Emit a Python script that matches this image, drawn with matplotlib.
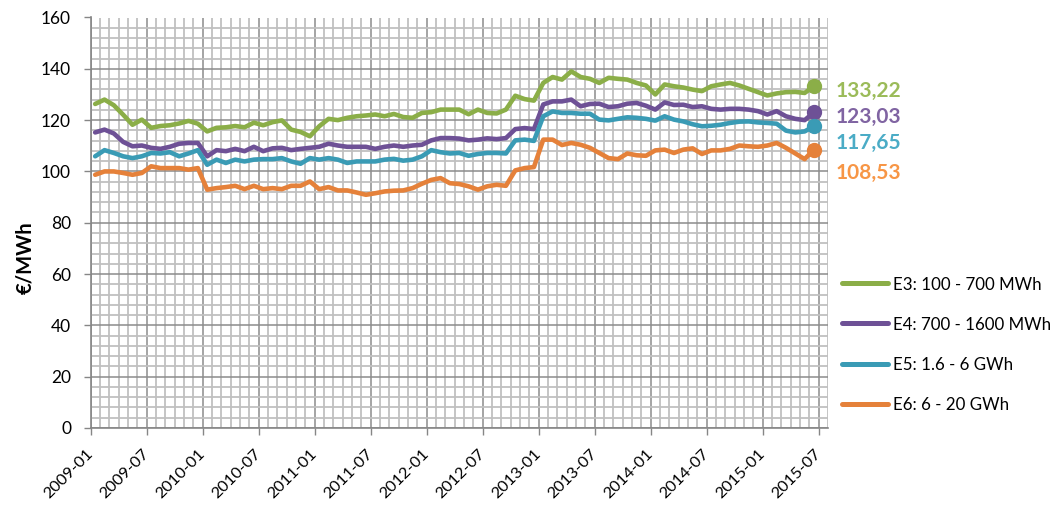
import numpy as np
import matplotlib
matplotlib.use("Agg")
import matplotlib.pyplot as plt
from matplotlib.ticker import MultipleLocator, FixedLocator
from matplotlib.lines import Line2D

plt.rcParams['font.family'] = ['Lato', 'DejaVu Sans']

# ---- data (monthly, 2009-01 .. 2015-06) ----
e3 = [126.3, 128.0, 125.8, 122.1, 118.2, 120.2, 117.0, 117.7, 118.0, 118.7,
      119.7, 118.6, 115.6, 117.0, 117.2, 117.7, 117.2, 119.0, 118.0, 119.2,
      119.9, 116.3, 115.4, 113.7, 117.6, 120.5, 120.0, 120.9, 121.5, 121.8,
      122.2, 121.5, 122.4, 121.2, 120.9, 122.8, 123.1, 124.1, 124.1,
      124.1, 122.3, 124.1, 122.8, 122.6, 124.1, 129.5, 128.2, 127.6, 134.5,
      136.8, 135.8, 139.0, 136.8, 136.1, 134.5, 136.5, 136.1, 135.8, 134.5,
      133.5, 130.0, 133.9, 133.2, 132.7, 131.9, 131.3, 133.2, 133.9, 134.5,
      133.5, 132.2, 130.9, 129.6, 130.4, 130.9, 131.0, 130.6, 133.22]
e4 = [115.2, 116.3, 114.8, 111.5, 109.8, 110.1, 109.2, 108.8, 109.6, 110.8,
      111.1, 111.1, 105.9, 108.3, 107.9, 108.8, 107.9, 109.6, 107.9, 109.0,
      109.2, 108.3, 108.8, 109.2, 109.6, 110.8, 110.1, 109.6, 109.6, 109.6,
      108.8, 109.6, 110.1, 109.6, 110.1, 110.4, 112.1, 113.0, 113.0,
      112.8, 112.1, 112.4, 112.9, 112.6, 113.0, 116.5, 116.9, 116.5, 126.1,
      127.3, 127.3, 128.0, 125.4, 126.3, 126.4, 125.1, 125.4, 126.4, 126.7,
      125.6, 124.1, 126.9, 125.9, 126.0, 125.1, 125.4, 124.4, 124.1, 124.4,
      124.4, 124.1, 123.5, 122.2, 123.5, 121.5, 120.5, 120.0, 123.03]
e5 = [105.9, 108.3, 107.2, 105.9, 105.2, 105.9, 107.2, 107.0, 107.5, 105.9,
      107.0, 108.3, 102.6, 104.6, 103.3, 104.6, 103.9, 104.6, 104.8, 104.8,
      105.2, 103.9, 103.0, 105.2, 104.6, 105.2, 104.6, 103.3, 103.9, 103.9,
      103.9, 104.6, 104.9, 104.2, 104.6, 105.9, 108.3, 107.5, 107.0,
      107.2, 106.1, 106.8, 107.2, 107.2, 107.0, 112.1, 112.4, 111.9, 121.5,
      123.4, 122.8, 122.8, 122.5, 122.5, 120.2, 119.9, 120.5, 121.1, 120.9,
      120.5, 119.8, 121.5, 120.2, 119.5, 118.4, 117.6, 117.8, 118.2, 118.9,
      119.4, 119.5, 119.1, 118.9, 118.6, 115.9, 115.2, 115.6, 117.65]
e6 = [98.7, 100.0, 100.0, 99.4, 98.7, 99.4, 102.0, 101.3, 101.3, 101.3,
      100.7, 101.3, 92.9, 93.5, 93.9, 94.4, 93.1, 94.4, 93.1, 93.5,
      93.1, 94.4, 94.4, 96.1, 93.1, 93.9, 92.6, 92.6, 91.8, 90.9,
      91.5, 92.2, 92.5, 92.6, 93.5, 95.2, 96.7, 97.4, 95.4,
      95.1, 94.2, 92.9, 94.2, 94.8, 94.4, 100.4, 101.3, 101.7, 112.4,
      112.4, 110.3, 111.1, 110.4, 109.2, 107.2, 105.2, 104.8, 107.0, 106.3,
      106.1, 108.2, 108.5, 107.2, 108.5, 109.0, 106.8, 108.2, 108.2, 108.8,
      110.1, 109.8, 109.6, 110.1, 111.1, 109.2, 107.0, 104.8, 108.53]

series_names = ['E3: 100 - 700 MWh', 'E4: 700 - 1600 MWh',
                'E5: 1.6 - 6 GWh', 'E6: 6 - 20 GWh']
last_labels = ['133,22', '123,03', '117,65', '108,53']
tick_labels = ['2009-01', '2009-07', '2010-01', '2010-07', '2011-01', '2011-07',
               '2012-01', '2012-07', '2013-01', '2013-07', '2014-01', '2014-07',
               '2015-01', '2015-07']

# ---- styling ----
line_colors = ['#8BAE48', '#6E5196', '#3A9BB5', '#E5813A']
text_colors = ['#9BBB59', '#8064A2', '#4BACC6', '#F79646']
label_y_px = [89, 115, 140.5, 170.5]        # label centres (figure pixels)
legend_y_px = [283, 323, 364, 404]          # legend row centres (figure pixels)

W, H = 1058, 505
fig = plt.figure(figsize=(W / 100, H / 100), dpi=100)
ax_l, ax_r, ax_t, ax_b = 90.5, 828, 17.5, 428
ax = fig.add_axes([ax_l / W, 1 - ax_b / H, (ax_r - ax_l) / W, (ax_b - ax_t) / H])

n = len(e3)
x = np.arange(n) + 0.5
for vals, c in zip([e3, e4, e5, e6], line_colors):
    ax.plot(x, vals, color=c, lw=3.3, solid_capstyle='round',
            solid_joinstyle='round', zorder=3)
    ax.plot(x[-1], vals[-1], 'o', color=c, ms=10, zorder=4)

ax.set_xlim(0, 79)
ax.set_ylim(0, 160)
ax.xaxis.set_major_locator(FixedLocator(np.arange(len(tick_labels)) * 6))
ax.set_xticklabels(tick_labels, rotation=45, ha='right', va='center',
                   rotation_mode='anchor', fontsize=11.8)
ax.xaxis.set_minor_locator(MultipleLocator(1))
ax.yaxis.set_major_locator(MultipleLocator(20))
ax.yaxis.set_minor_locator(MultipleLocator(4))
ax.tick_params(axis='y', labelsize=12.5, length=5, width=1, color='#868686', pad=9)
ax.tick_params(axis='x', length=5, width=1, color='#868686', pad=12)
ax.tick_params(which='minor', length=0)

ax.grid(which='minor', color='#c0c0c0', lw=1.3, zorder=0)
ax.grid(which='major', color='#8c8c8c', lw=1.1, zorder=1)
ax.set_axisbelow(True)
for s in ['top', 'right']:
    ax.spines[s].set_visible(False)
for s in ['left', 'bottom']:
    ax.spines[s].set_color('#868686')
    ax.spines[s].set_linewidth(1.2)

fig.text(25 / W, 1 - 258 / H, '€/MWh', rotation=90, ha='center', va='center',
         fontsize=14.5, fontweight='bold')

for lab, ly, c in zip(last_labels, label_y_px, text_colors):
    fig.text(836 / W, 1 - ly / H, lab, color=c, fontsize=15, fontweight='bold',
             ha='left', va='center_baseline')

for name, ly, c in zip(series_names, legend_y_px, line_colors):
    yf = 1 - ly / H
    fig.add_artist(Line2D([842 / W, 888 / W], [yf, yf], color=c, lw=3.6,
                          solid_capstyle='round', transform=fig.transFigure))
    fig.text(893 / W, yf, name, fontsize=12.2, ha='left', va='center_baseline')

fig.savefig('out.png', dpi=100)
